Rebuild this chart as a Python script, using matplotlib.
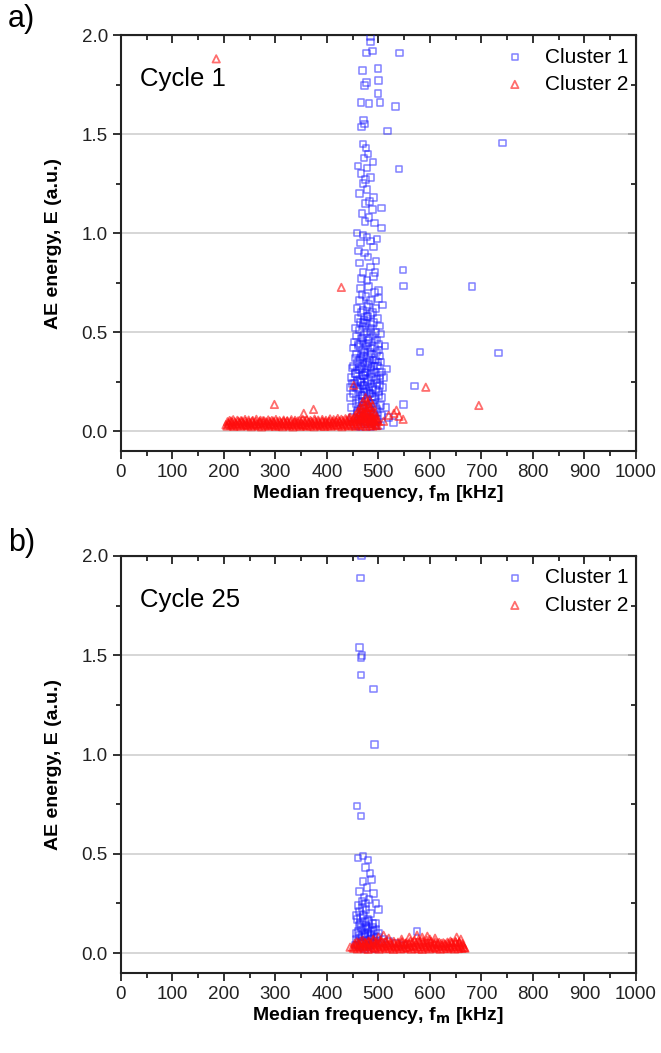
import matplotlib.pyplot as plt
from matplotlib.ticker import MultipleLocator, FormatStrFormatter

plt.rcParams['font.family'] = ['Liberation Sans', 'DejaVu Sans']

# ---- Cycle 1, cluster 1 (blue squares): median frequency [kHz], energy [a.u.]
fm_a1 = [485, 485, 477, 488, 541, 469, 499, 477, 473, 500, 499, 466, 482, 503, 533, 471, 473, 467, 518,
         470, 476, 480, 472, 460, 478, 540, 466, 485, 470, 478, 463, 490, 475, 506, 468, 482, 492, 506, 458,
         470, 478, 485, 465, 490, 473, 480, 495, 463, 485, 548, 470, 490, 478, 549, 682, 465, 500, 488, 474,
         461, 497, 483, 489, 467, 741, 475, 493, 481,
         468, 476, 485, 492, 463, 500, 481, 458, 470, 478, 488, 495, 466, 508, 460, 472, 480, 490, 498, 485,
         465, 455, 463, 470, 478, 486, 494, 502, 475, 457, 466, 473, 481, 489, 497, 505, 470, 485, 452, 460,
         468, 476, 484, 492, 500, 513, 480, 455, 463, 471, 479, 487, 495, 503, 581, 733, 466, 450, 458, 466,
         474, 482, 490, 498, 506, 516, 470, 486, 447, 455, 463, 471, 479, 487, 495, 503, 510, 475, 459, 446,
         454, 462, 470, 478, 486, 494, 502, 509, 570, 466, 482, 445, 452, 460, 468, 476, 484, 492, 500, 507,
         472, 488, 448, 456, 464, 472, 480, 488, 496, 504, 549, 515, 468, 450, 458, 466, 474, 482, 490, 498,
         506, 520, 455, 465, 475, 485, 495, 529, 505]
en_a1 = [1.99, 1.965, 1.91, 1.92, 1.91, 1.82, 1.83, 1.76, 1.745, 1.77, 1.705, 1.66, 1.655, 1.66, 1.64, 1.57,
         1.55, 1.535, 1.515,
         1.45, 1.43, 1.40, 1.38, 1.34, 1.33, 1.323, 1.30, 1.28, 1.25, 1.22, 1.20, 1.18, 1.15, 1.126, 1.10,
         1.08, 1.05, 1.027, 1.00, 0.99, 0.98, 0.96, 0.95, 0.93, 0.90, 0.88, 0.86, 0.85, 0.83, 0.815, 0.80,
         0.78, 0.76, 0.734, 0.731, 0.72, 0.71, 1.12, 1.06, 0.91, 0.97, 1.16, 1.36, 0.77, 1.456, 1.27, 0.80,
         0.73,
         0.69, 0.68, 0.66, 0.70, 0.66, 0.67, 0.64, 0.62, 0.61, 0.63, 0.60, 0.62, 0.60, 0.636, 0.57, 0.56,
         0.58, 0.55, 0.57, 0.59, 0.55, 0.52, 0.51, 0.53, 0.50, 0.52, 0.50, 0.53, 0.545, 0.48, 0.47, 0.49,
         0.46, 0.48, 0.46, 0.49, 0.45, 0.50, 0.42, 0.44, 0.41, 0.43, 0.40, 0.42, 0.44, 0.429, 0.445, 0.37,
         0.36, 0.38, 0.35, 0.39, 0.36, 0.38, 0.399, 0.395, 0.39, 0.32, 0.31, 0.33, 0.30, 0.34, 0.31, 0.33,
         0.30, 0.315, 0.345, 0.32, 0.27, 0.29, 0.26, 0.28, 0.25, 0.29, 0.26, 0.28, 0.27, 0.295, 0.25, 0.22,
         0.24, 0.21, 0.23, 0.20, 0.24, 0.21, 0.23, 0.22, 0.229, 0.245, 0.22, 0.17, 0.19, 0.16, 0.18, 0.15,
         0.19, 0.16, 0.18, 0.17, 0.20, 0.175, 0.12, 0.14, 0.11, 0.13, 0.10, 0.14, 0.11, 0.13, 0.135, 0.12,
         0.15, 0.07, 0.09, 0.06, 0.08, 0.05, 0.09, 0.06, 0.08, 0.07, 0.03, 0.02, 0.04, 0.02, 0.03, 0.044,
         0.03]
# denser core of the cycle-1 blue column
fm_a1_core = [453, 461, 469, 477, 485, 493, 501, 457, 465, 473, 481, 489, 497, 505, 451, 459, 467, 475, 483,
              491, 499, 455, 463, 471, 479, 487, 495, 503, 449, 457, 465, 473, 481, 489, 497, 460, 468, 476,
              484, 492, 500, 462, 470, 478, 486, 494, 458, 466, 474, 482, 490, 498, 464, 472, 480, 488, 496,
              470, 478, 486]
en_a1_core = [0.45, 0.43, 0.47, 0.44, 0.42, 0.46, 0.41, 0.39, 0.37, 0.40, 0.38, 0.36, 0.40, 0.35, 0.33, 0.35,
              0.32, 0.34, 0.36, 0.33, 0.35, 0.29, 0.31, 0.28, 0.30, 0.27, 0.30, 0.26, 0.24, 0.22, 0.25, 0.23,
              0.26, 0.22, 0.24, 0.20, 0.18, 0.21, 0.19, 0.17, 0.20, 0.15, 0.13, 0.16, 0.14, 0.12, 0.10, 0.11,
              0.09, 0.12, 0.08, 0.10, 0.06, 0.05, 0.07, 0.04, 0.06, 0.55, 0.58, 0.54]

# ---- Cycle 1, cluster 2 (red triangles)
fm_a2 = [185, 428, 592, 695, 298, 374, 355, 452, 535, 548, 520, 530, 540, 510,
         460, 465, 470, 475, 480, 485, 490, 478, 472, 468, 482, 488, 495, 455, 445, 462, 476, 484, 492, 498, 500,
         206, 213, 219, 226, 233, 240, 246, 253, 260, 267, 273, 280, 287, 294, 300, 307, 314, 321, 327, 334,
         341, 348, 354, 361, 368, 375, 381, 388, 395, 402, 408, 415, 422, 429, 435, 442, 449, 456, 462, 469,
         476, 483, 489, 496,
         209, 216, 223, 230, 236, 243, 250, 257, 263, 270, 277, 284, 290, 297, 304, 311, 317, 324, 331, 338,
         344, 351, 358, 365, 371, 378, 385, 392, 398, 405, 412, 419, 425, 432, 439, 446, 452, 459, 466, 473,
         479, 486, 493,
         211, 218, 226, 233, 241, 248, 256, 263, 271, 278, 286, 293, 301, 308, 316, 323, 331, 338, 346, 353,
         361, 368, 376, 383, 391, 398, 406, 413, 421, 428, 436, 443, 451, 458, 466, 473, 481, 488]
en_a2 = [1.88, 0.726, 0.222, 0.13, 0.135, 0.11, 0.09, 0.232, 0.106, 0.06, 0.08, 0.09, 0.075, 0.05,
         0.10, 0.12, 0.15, 0.17, 0.14, 0.12, 0.10, 0.11, 0.09, 0.08, 0.09, 0.07, 0.06, 0.08, 0.07, 0.06, 0.07,
         0.05, 0.04, 0.03, 0.05,
         0.026, 0.030, 0.024, 0.028, 0.025, 0.031, 0.027, 0.023, 0.029, 0.026, 0.022, 0.028, 0.025, 0.030,
         0.024, 0.027, 0.023, 0.029, 0.026, 0.022, 0.028, 0.024, 0.030, 0.025, 0.027, 0.023, 0.029, 0.026,
         0.024, 0.028, 0.025, 0.030, 0.027, 0.023, 0.029, 0.026, 0.028, 0.025, 0.030, 0.027, 0.024, 0.029,
         0.026, 0.028,
         0.040, 0.044, 0.038, 0.042, 0.045, 0.039, 0.043, 0.041, 0.037, 0.044, 0.040, 0.042, 0.038, 0.045,
         0.041, 0.039, 0.043, 0.040, 0.037, 0.044, 0.041, 0.038, 0.042, 0.045, 0.040, 0.043, 0.039, 0.044,
         0.041, 0.046, 0.042, 0.045, 0.047, 0.043, 0.048, 0.046, 0.050, 0.047, 0.051, 0.048, 0.052, 0.049,
         0.050,
         0.054, 0.058, 0.055, 0.053, 0.059, 0.056, 0.054, 0.060, 0.055, 0.052, 0.057, 0.054, 0.059, 0.053,
         0.056, 0.051, 0.058, 0.055, 0.053, 0.060, 0.057, 0.054, 0.061, 0.056, 0.059, 0.055, 0.062, 0.058,
         0.064, 0.060, 0.063, 0.066, 0.064, 0.068, 0.070, 0.067, 0.072, 0.069]
# extra rows filling the cycle-1 red band and the bump under the blue column
fm_a2_band = [204, 210, 217, 224, 231, 238, 244, 251, 258, 265, 271, 278, 285, 292, 298, 305, 312, 319, 325,
              332, 339, 346, 352, 359, 366, 373, 379, 386, 393, 400, 406, 413, 420, 427, 433, 440, 447, 454,
              460, 467, 474, 481, 487, 494,
              207, 214, 221, 228, 235, 242, 248, 255, 262, 269, 276, 282, 289, 296, 303, 310, 316, 323, 330,
              337, 343, 350, 357, 364, 370, 377, 384, 391, 397, 404, 411, 418, 424, 431, 438, 445, 451, 458,
              465, 472, 478, 485, 491, 497,
              463, 467, 471, 474, 477, 479, 481, 483, 486, 489, 491, 494, 458, 470, 475, 480, 487, 496, 466, 473]
en_a2_band = [0.033, 0.036, 0.032, 0.035, 0.037, 0.034, 0.031, 0.036, 0.033, 0.035, 0.038, 0.032, 0.034,
              0.036, 0.033, 0.031, 0.035, 0.037, 0.034, 0.032, 0.036, 0.033, 0.035, 0.031, 0.034, 0.037,
              0.033, 0.035, 0.032, 0.036, 0.034, 0.038, 0.033, 0.035, 0.037, 0.034, 0.036, 0.039, 0.035,
              0.038, 0.036, 0.040, 0.037, 0.035,
              0.048, 0.051, 0.047, 0.050, 0.052, 0.049, 0.046, 0.051, 0.048, 0.050, 0.053, 0.047, 0.049,
              0.051, 0.048, 0.046, 0.050, 0.052, 0.049, 0.047, 0.051, 0.048, 0.050, 0.046, 0.049, 0.052,
              0.048, 0.050, 0.047, 0.051, 0.049, 0.053, 0.051, 0.054, 0.056, 0.054, 0.058, 0.060, 0.062,
              0.064, 0.066, 0.062, 0.059, 0.054,
              0.09, 0.11, 0.13, 0.12, 0.15, 0.10, 0.12, 0.16, 0.09, 0.13, 0.08, 0.09, 0.07, 0.07, 0.08, 0.06,
              0.06, 0.07, 0.10, 0.10]

# ---- Cycle 25, cluster 1 (blue squares)
fm_b1 = [467, 465, 463, 468, 466, 466, 490, 492, 458, 466, 460, 470, 480, 475, 484, 487, 478, 490, 495, 500,
         485, 575, 470, 463, 472, 468, 460, 476, 482, 457, 465, 473, 480, 488, 462, 470, 478, 486, 494, 456,
         466, 474, 483, 491, 500, 460, 469, 477, 488, 497, 505, 455, 464, 473, 482, 492, 510, 520, 535, 550,
         458, 464, 470, 476, 482, 488, 494, 461, 467, 473, 479, 485, 491, 456, 462, 468, 474, 480, 486, 492,
         498, 459, 465, 471, 477, 483, 489, 463, 469, 475]
en_b1 = [2.00, 1.89, 1.54, 1.50, 1.49, 1.40, 1.33, 1.05, 0.74, 0.69, 0.48, 0.49, 0.47, 0.43, 0.40, 0.37,
         0.33, 0.30, 0.25, 0.22, 0.20, 0.11, 0.36, 0.31, 0.28, 0.26, 0.24, 0.22, 0.27, 0.19, 0.18, 0.16,
         0.17, 0.15, 0.14, 0.12, 0.13, 0.11, 0.12, 0.10, 0.08, 0.09, 0.07, 0.08, 0.10, 0.06, 0.05, 0.04,
         0.05, 0.06, 0.05, 0.04, 0.03, 0.02, 0.03, 0.02, 0.07, 0.06, 0.05, 0.04,
         0.17, 0.15, 0.19, 0.14, 0.16, 0.13, 0.15, 0.11, 0.13, 0.10, 0.12, 0.09, 0.11, 0.07, 0.09, 0.06,
         0.08, 0.10, 0.07, 0.06, 0.08, 0.04, 0.05, 0.03, 0.06, 0.04, 0.05, 0.21, 0.23, 0.25]

# ---- Cycle 25, cluster 2 (red triangles)
fm_b2 = [575, 585, 595, 600, 610, 640, 652, 660, 665, 668, 520, 500, 510, 490, 480, 470, 545, 560, 445,
         452, 459, 466, 473, 480, 487, 494, 501, 508, 515, 522, 529, 536, 543, 550, 557, 564, 571, 578, 585,
         592, 599, 606, 613, 620, 627, 634, 641, 648, 655, 662,
         455, 462, 469, 476, 483, 490, 497, 504, 511, 518, 525, 532, 539, 546, 553, 560, 567, 574, 581, 588,
         595, 602, 609, 616, 623, 630, 637, 644, 651, 658, 664,
         458, 466, 474, 482, 490, 498, 506, 514, 522, 530, 538, 546, 554, 562, 570, 578, 586, 594, 602, 610,
         618, 626, 634, 642, 650, 657]
en_b2 = [0.090, 0.080, 0.085, 0.070, 0.075, 0.060, 0.080, 0.070, 0.030, 0.025, 0.075, 0.080, 0.090, 0.070,
         0.060, 0.065, 0.070, 0.080, 0.030,
         0.024, 0.021, 0.026, 0.022, 0.019, 0.025, 0.023, 0.020, 0.026, 0.022, 0.024, 0.019, 0.025, 0.021,
         0.023, 0.026, 0.020, 0.024, 0.022, 0.019, 0.025, 0.021, 0.026, 0.023, 0.020, 0.024, 0.022, 0.025,
         0.021, 0.023, 0.024,
         0.040, 0.043, 0.038, 0.042, 0.045, 0.039, 0.044, 0.041, 0.038, 0.043, 0.040, 0.037, 0.042, 0.039,
         0.044, 0.041, 0.038, 0.043, 0.046, 0.040, 0.042, 0.038, 0.044, 0.041, 0.039, 0.042, 0.037, 0.040,
         0.043, 0.038, 0.041,
         0.057, 0.062, 0.054, 0.060, 0.064, 0.056, 0.061, 0.058, 0.053, 0.059, 0.055, 0.057, 0.052, 0.060,
         0.064, 0.067, 0.062, 0.065, 0.059, 0.057, 0.054, 0.052, 0.055, 0.053, 0.058, 0.056]
fm_b2_band = [450, 457, 464, 471, 478, 485, 492, 499, 506, 513, 520, 527, 534, 541, 548, 555, 562, 569, 576,
              583, 590, 597, 604, 611, 618, 625, 632, 639, 646, 653, 660, 667,
              454, 461, 468, 475, 482, 489, 496, 503, 510, 517, 524, 531, 538, 545, 552, 559, 566, 573, 580,
              587, 594, 601, 608, 615, 622, 629, 636, 643, 650, 657, 663]
en_b2_band = [0.031, 0.034, 0.030, 0.033, 0.035, 0.032, 0.029, 0.034, 0.031, 0.033, 0.036, 0.030, 0.032,
              0.034, 0.031, 0.029, 0.033, 0.035, 0.032, 0.030, 0.034, 0.031, 0.033, 0.029, 0.032, 0.035,
              0.031, 0.033, 0.030, 0.034, 0.032, 0.028,
              0.049, 0.052, 0.047, 0.051, 0.053, 0.048, 0.050, 0.054, 0.049, 0.047, 0.052, 0.050, 0.048,
              0.053, 0.049, 0.051, 0.055, 0.052, 0.058, 0.054, 0.050, 0.052, 0.048, 0.051, 0.049, 0.047,
              0.050, 0.053, 0.055, 0.052, 0.048]

blue = (0.1, 0.1, 1.0, 0.55)
red = (1.0, 0.05, 0.05, 0.6)

fig = plt.figure(figsize=(6.61, 10.53), dpi=100)
ax_a = fig.add_axes([0.183, 0.5717, 0.779, 0.395])
ax_b = fig.add_axes([0.183, 0.076, 0.779, 0.396])


def draw(ax, fx1, e1, fx2, e2, cycle):
    ax.scatter(fx1, e1, marker='s', s=22, facecolors='none', edgecolors=[blue], linewidths=1.1,
               label='Cluster 1', zorder=3)
    ax.scatter(fx2, e2, marker='^', s=28, facecolors='none', edgecolors=[red], linewidths=1.3,
               label='Cluster 2', zorder=4)
    ax.set_xlim(0, 1000)
    ax.set_ylim(-0.1, 2.0)
    ax.xaxis.set_major_locator(MultipleLocator(100))
    ax.xaxis.set_minor_locator(MultipleLocator(50))
    ax.yaxis.set_major_locator(MultipleLocator(0.5))
    ax.yaxis.set_minor_locator(MultipleLocator(0.25))
    ax.yaxis.set_major_formatter(FormatStrFormatter('%.1f'))
    ax.tick_params(which='both', direction='out', width=1.3, labelsize=13.5, colors='#222222')
    ax.tick_params(which='major', length=6)
    ax.tick_params(which='minor', length=3.5)
    for sp in ax.spines.values():
        sp.set_linewidth(1.5)
        sp.set_color('#222222')
    ax.grid(axis='y', which='major', color='#cccccc', linewidth=1.1, zorder=0)
    ax.set_axisbelow(True)

    top = ax.secondary_xaxis('top')
    top.xaxis.set_major_locator(MultipleLocator(100))
    top.xaxis.set_minor_locator(MultipleLocator(50))
    top.tick_params(which='both', direction='in', width=1.3, labeltop=False, colors='#222222')
    top.tick_params(which='major', length=6)
    top.tick_params(which='minor', length=3.5)
    right = ax.secondary_yaxis('right')
    right.yaxis.set_major_locator(MultipleLocator(0.5))
    right.yaxis.set_minor_locator(MultipleLocator(0.25))
    right.tick_params(which='both', direction='in', width=1.3, labelright=False, colors='#222222')
    right.tick_params(which='major', length=6)
    right.tick_params(which='minor', length=3.5)

    ax.set_xlabel('Median frequency, f$_\\mathbf{m}$ [kHz]', fontsize=14, fontweight='bold', labelpad=1)
    ax.set_ylabel('AE energy, E (a.u.)', fontsize=14, fontweight='bold', labelpad=14)
    ax.text(37, 1.78, cycle, fontsize=18.5, va='center', ha='left')
    ax.legend(loc='upper right', frameon=False, fontsize=15, handletextpad=0.45, borderaxespad=0.2,
              labelspacing=0.4, bbox_to_anchor=(1.01, 1.0), markerscale=1.0)


draw(ax_a, fm_a1 + fm_a1_core, en_a1 + en_a1_core, fm_a2 + fm_a2_band, en_a2 + en_a2_band, 'Cycle 1')
draw(ax_b, fm_b1, en_b1, fm_b2 + fm_b2_band, en_b2 + en_b2_band, 'Cycle 25')

fig.text(0.012, 0.982, 'a)', fontsize=22, va='center', ha='left')
fig.text(0.012, 0.484, 'b)', fontsize=22, va='center', ha='left')

fig.savefig('out.png', dpi=100)
